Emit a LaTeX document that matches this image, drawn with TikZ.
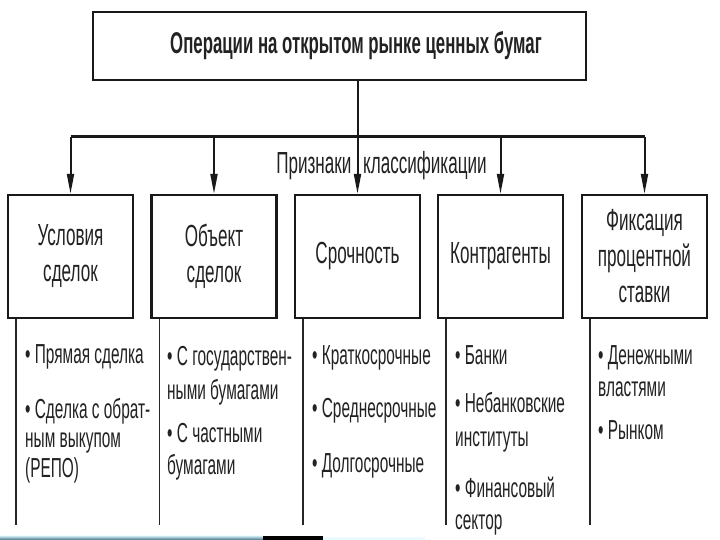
\documentclass[tikz,border=0pt]{standalone}
\usepackage{fontspec}
\setmainfont{Liberation Sans}[FakeStretch=0.56]
\usetikzlibrary{arrows.meta}
\definecolor{txt}{HTML}{222222}
\definecolor{stripA}{HTML}{3E6E86}
\definecolor{stripB}{HTML}{DDF6FA}
\begin{document}
\begin{tikzpicture}[x=1pt,y=-1pt,
  topbox/.style={draw=black!90, line width=2.5pt, minimum width=493pt, minimum height=68pt, inner sep=0pt},
  title/.style={inner sep=0pt, text=txt, font=\bfseries\fontsize{30}{32}\selectfont},
  box/.style={draw=black!90, line width=2.3pt, minimum width=125pt, minimum height=123pt,
    align=center, inner sep=0pt, text=txt, font=\fontsize{30.5}{36}\selectfont},
  stem/.style={line width=2pt, draw=black!90},
  arr/.style={line width=2pt, draw=black!90, -{Triangle[length=20pt,width=7pt]}},
  barline/.style={line width=3pt, draw=black!90},
  listline/.style={line width=1.6pt, draw=black!85},
  item/.style={anchor=base west, inner sep=0pt, text=txt, font=\fontsize{27.5}{30}\selectfont},
  sign/.style={inner sep=0pt, text=txt, font=\fontsize{30.5}{32}\selectfont}]
\useasboundingbox (0,0) rectangle (720,540);
\fill[white] (0,0) rectangle (720,540);

% top box
\node[topbox] (top) at (339.5,46) {};
\node[title] (ttl) at (356,46) {Операции на открытом рынке ценных бумаг};

% category boxes
\node[box] (b1) at (70.5,256.5) {Условия\\сделок};
\node[box] (b2) at (214,256.5) {Объект\\сделок};
\node[box] (b3) at (357.5,256.5) {Срочность};
\node[box] (b4) at (500.5,256.5) {Контрагенты};
\node[box] (b5) at (644.5,256.5) {Фиксация\\процентной\\ставки};

% connectors
\coordinate (bar) at (0,137);
\draw[stem] (top.south -| b3.north) -- (b3.north |- bar);
\draw[barline] (b1.north |- bar) -- (b5.north |- bar);
\foreach \b in {b1,b2,b3,b4,b5}
  \draw[arr] (\b.north |- bar) -- (\b.north);

\node[sign] (lbl) at (381.5,166) {Признаки\hspace{7pt} классификации};

% list lines
\foreach \b in {b1,b2,b3,b4,b5}
  \draw[listline] ([xshift=9pt]\b.south west) -- ++(0,206);

% items
\node[item] (i1a) at (25,363) {• Прямая сделка};
\node[item] (i1b) at (25,418) {• Сделка с обрат-};
\node[item] (i1c) at (25,447) {ным выкупом};
\node[item] (i1d) at (25,477) {(РЕПО)};

\node[item] (i2a) at (167,365) {• С государствен-};
\node[item] (i2b) at (167,399) {ными бумагами};
\node[item] (i2c) at (167,442) {• С частными};
\node[item] (i2d) at (167,474) {бумагами};

\node[item] (i3a) at (312,364) {• Краткосрочные};
\node[item] (i3b) at (312,417) {• Среднесрочные};
\node[item] (i3c) at (312,472) {• Долгосрочные};

\node[item] (i4a) at (455,364) {• Банки};
\node[item] (i4b) at (455,412) {• Небанковские};
\node[item] (i4c) at (455,446) {институты};
\node[item] (i4d) at (455,497) {• Финансовый};
\node[item] (i4e) at (455,529) {сектор};

\node[item] (i5a) at (598,364) {• Денежными};
\node[item] (i5b) at (598,396) {властями};
\node[item] (i5c) at (598,439) {• Рынком};

% bottom strip
\shade[top color=stripB, bottom color=stripA] (0,535.5) rectangle (263,540);
\fill[black] (263,536) rectangle (323,540);
\fill[stripB!60] (323,537) rectangle (425,540);
\end{tikzpicture}
\end{document}
